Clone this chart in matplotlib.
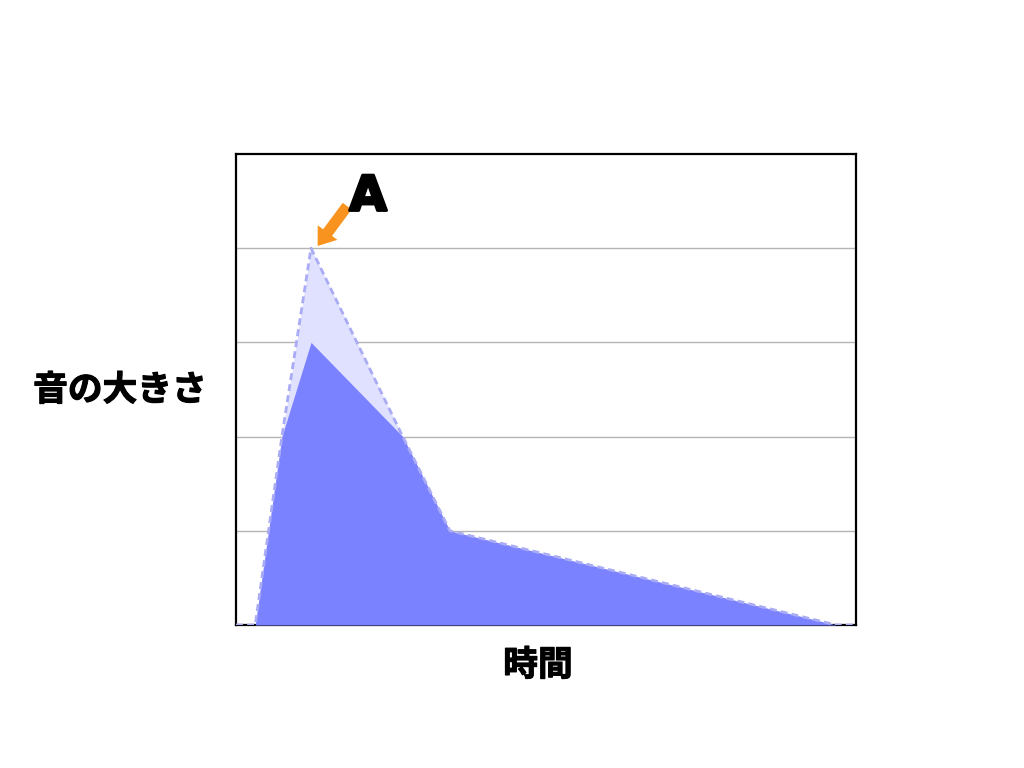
import matplotlib.pyplot as plt
import matplotlib.patheffects as pe

plt.rcParams["font.family"] = ["Noto Sans CJK JP", "DejaVu Sans"]

# time axis (arbitrary units, 0..100)
time = [0.0, 3.1, 7.4, 12.1, 26.9, 34.5, 96.8, 100.0]
# loudness actually heard (dark) and the peak before masking (light)
heard = [0.0, 0.0, 2.0, 3.0, 2.0, 1.0, 0.0, 0.0]
peak = [0.0, 0.0, 2.0, 4.0, 2.0, 1.0, 0.0, 0.0]

fig = plt.figure(figsize=(10.24, 7.68), dpi=100)
ax = fig.add_axes([236 / 1024, 1 - 625 / 768, 620 / 1024, 471 / 768])

ax.fill_between(time, peak, color="#e0e0ff", linewidth=0, zorder=2)
ax.plot(time, peak, color="#a9abf5", linestyle=(0, (2.5, 1.5)), linewidth=2, zorder=4)
ax.fill_between(time, heard, color="#7b82ff", linewidth=0, zorder=3)

ax.set_xlim(0, 100)
ax.set_ylim(0, 5)
ax.set_yticks([1, 2, 3, 4])
ax.set_xticks([])
ax.yaxis.grid(True, color="#b4b4b4", linewidth=1)
ax.set_axisbelow(True)
ax.tick_params(axis="y", length=0, labelleft=False)
for spine in ax.spines.values():
    spine.set_linewidth(1.6)
    spine.set_color("black")

ax.annotate("", xy=(12.9, 4.0), xytext=(18.2, 4.47),
            arrowprops=dict(arrowstyle="simple,head_length=0.75,head_width=1.1,tail_width=0.5",
                            color="#f7931e", linewidth=0, mutation_scale=16), zorder=5)
ax.text(21.3, 4.40, "A", fontsize=35, fontweight="bold", family="DejaVu Sans",
        ha="center", va="baseline", zorder=5,
        path_effects=[pe.withStroke(linewidth=2, foreground="black")])

bold_stroke = [pe.withStroke(linewidth=0.8, foreground="black")]
fig.text(120 / 1024, 1 - 390 / 768, "音の大きさ", fontsize=25, fontweight="bold",
         ha="center", va="center", path_effects=bold_stroke)
fig.text(538 / 1024, 1 - 665 / 768, "時間", fontsize=25, fontweight="bold",
         ha="center", va="center", path_effects=bold_stroke)

fig.savefig("out.png", dpi=100)
